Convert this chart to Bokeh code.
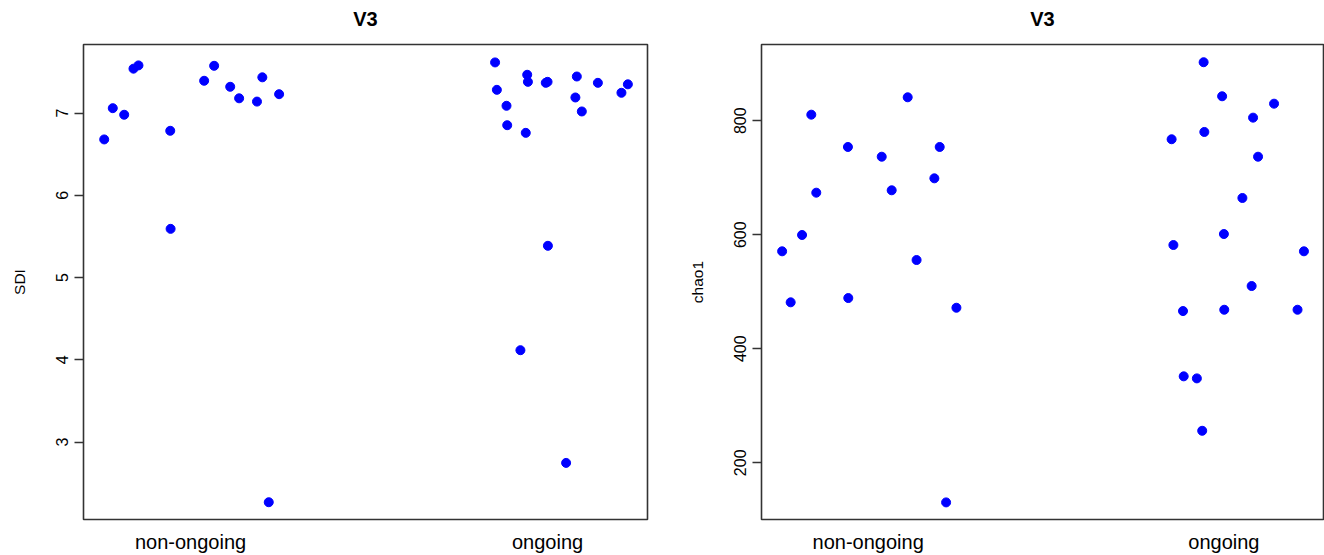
from bokeh.plotting import figure
from bokeh.models import Range1d, FixedTicker, Title
from bokeh.layouts import row
from bokeh.embed import file_html
from bokeh.resources import INLINE

categories = ["non-ongoing", "ongoing"]
title_text = "V3"

# jittered x positions (shared by both panels, same samples)
jit_non = [0.758, 0.782, 0.814, 0.840, 0.854, 0.943, 0.944, 1.038, 1.066, 1.111, 1.136, 1.186, 1.201, 1.219, 1.248]
jit_on = [1.853, 1.858, 1.885, 1.887, 1.924, 1.939, 1.943, 1.945, 1.995, 2.000, 2.001, 2.052, 2.078, 2.082, 2.096, 2.141, 2.207, 2.225]

sdi_non = [6.68, 7.06, 6.98, 7.54, 7.58, 6.785, 5.593, 7.393, 7.575, 7.32, 7.18, 7.14, 7.435, 2.27, 7.23]
sdi_on = [7.616, 7.283, 7.089, 6.853, 4.118, 6.76, 7.466, 7.38, 7.368, 7.38, 5.387, 2.748, 7.19, 7.445, 7.02, 7.368, 7.247, 7.35]

chao_non = [570.9, 481.4, 599.5, 810.5, 673.7, 753.9, 488.9, 736.8, 677.9, 841.0, 555.6, 698.9, 753.9, 130.5, 471.9]
chao_on = [767.4, 581.9, 466.1, 351.6, 348.0, 256.1, 902.5, 780.2, 842.8, 601.2, 468.4, 664.4, 510.0, 805.3, 736.8, 829.8, 468.4, 570.9]

sdi_ticks = [3, 4, 5, 6, 7]
chao_ticks = [200, 400, 600, 800]

FONT = "Liberation Sans"


def make_panel(ylabel, y_non, y_on, yticks, yrange, border_left, border_right):
    p = figure(width=662, height=555, output_backend="svg", toolbar_location=None,
               title=None,
               x_range=Range1d(0.70, 2.28), y_range=Range1d(*yrange),
               min_border_left=border_left, min_border_right=border_right,
               min_border_top=44, min_border_bottom=36)
    # blank spacer between frame and title (first "above" item sits next to the frame)
    p.add_layout(Title(text=" ", text_font_size="1px", standoff=12, text_color="white"), "above")
    p.add_layout(Title(text=title_text, align="center", vertical_align="bottom",
                       text_font=FONT, text_font_size="20px", text_font_style="bold",
                       text_color="#000000", standoff=0), "above")

    p.xgrid.visible = False
    p.ygrid.visible = False
    p.outline_line_color = "#333333"
    p.outline_line_width = 1.6
    p.background_fill_color = "white"
    p.border_fill_color = "white"

    xs = jit_non + jit_on
    ys = y_non + y_on
    p.scatter(xs, ys, size=9, color="#0000FF", line_color="#0000FF")

    xa = p.xaxis[0]
    xa.ticker = FixedTicker(ticks=[1, 2])
    xa.major_label_overrides = {1: categories[0], 2: categories[1]}
    xa.axis_line_color = None
    xa.major_tick_line_color = None
    xa.minor_tick_line_color = None
    xa.major_tick_out = 0
    xa.major_tick_in = 0
    xa.major_label_standoff = 11
    xa.major_label_text_font = FONT
    xa.major_label_text_font_size = "20px"
    xa.major_label_text_color = "#000000"

    ya = p.yaxis[0]
    ya.ticker = FixedTicker(ticks=yticks)
    ya.axis_line_color = None
    ya.minor_tick_line_color = None
    ya.major_tick_line_color = "#333333"
    ya.major_tick_line_width = 1.5
    ya.major_tick_out = 9
    ya.major_tick_in = 0
    ya.major_label_orientation = "vertical"
    ya.major_label_standoff = 6
    ya.major_label_text_font = FONT
    ya.major_label_text_font_size = "16px"
    ya.major_label_text_color = "#000000"
    ya.axis_label = ylabel
    ya.axis_label_text_font = FONT
    ya.axis_label_text_font_size = "15.5px"
    ya.axis_label_text_font_style = "normal"
    ya.axis_label_text_color = "#000000"
    ya.axis_label_standoff = 26
    return p


p1 = make_panel("SDI", sdi_non, sdi_on, sdi_ticks, (2.06, 7.834), 83, 15)
p2 = make_panel("chao1", chao_non, chao_on, chao_ticks, (100.5, 933.6), 99, 1)

layout = row(p1, p2)
open("out.html", "w").write(file_html(layout, INLINE))
